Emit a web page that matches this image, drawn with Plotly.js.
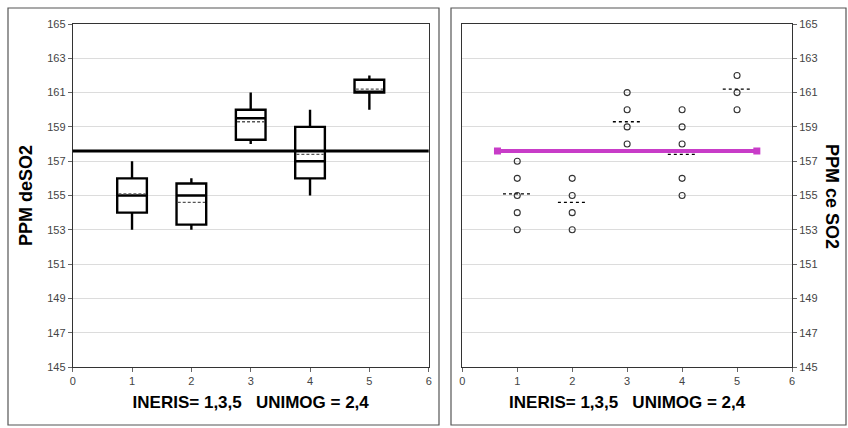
<!DOCTYPE html>
<html>
<head>
<meta charset="utf-8">
<script src="https://cdn.plot.ly/plotly-3.0.1.min.js"></script>
<style>
  html, body { margin: 0; padding: 0; background: #fff; }
  #chart { width: 848px; height: 428px; }
</style>
</head>
<body>
<div id="chart"></div>
<script>
// Campaign positions (INERIS = 1,3,5 ; UNIMOG = 2,4)
const positions = [1, 2, 3, 4, 5];

// Box summaries, ppm SO2
const lowerFence = [153, 153, 158, 155, 160];
const q1 = [154, 153.3, 158.25, 156, 161];
const medians = [155, 155, 159.5, 157, 161];
const q3 = [156, 155.7, 160, 159, 161.75];
const upperFence = [157, 156, 161, 160, 162];
const means = [155.1, 154.6, 159.3, 157.4, 161.2];

// Individual readings per position, ppm SO2
const readings1 = [153, 154, 155, 156, 157];
const readings2 = [153, 154, 155, 156];
const readings3 = [158, 159, 160, 161];
const readings4 = [155, 156, 158, 159, 160];
const readings5 = [160, 161, 162];

// Reference level and the span of the magenta reference bar
const refLevel = 157.6;
const refSpan = [0.64, 5.36];

const yTicks = [145, 147, 149, 151, 153, 155, 157, 159, 161, 163, 165];
const xTicks = [0, 1, 2, 3, 4, 5, 6];

const W = 848, H = 428;
const px = v => v / W;
const py = v => 1 - v / H;

const tickFont = { family: 'Liberation Sans, Arial, sans-serif', size: 11, color: '#444' };
const titleFont = { family: 'Liberation Sans, Arial, sans-serif', size: 17, color: '#000', weight: 'bold' };
const xTitle = 'INERIS= 1,3,5&nbsp;&nbsp; UNIMOG = 2,4';

// scatter points for the right panel
const groups = [readings1, readings2, readings3, readings4, readings5];
const ptsX = [], ptsY = [];
groups.forEach((g, i) => g.forEach(v => { ptsX.push(positions[i]); ptsY.push(v); }));

// dashed mean segments, drawn across each box width
function meanSegments(half) {
  const xs = [], ys = [];
  means.forEach((m, i) => {
    xs.push(positions[i] - half, positions[i] + half, null);
    ys.push(m, m, null);
  });
  return { xs, ys };
}
const boxWidth = 0.5;
const leftMeans = meanSegments(boxWidth / 2 - 0.02);
const rightMeans = meanSegments(0.26);

const traces = [
  {
    type: 'box',
    xaxis: 'x', yaxis: 'y',
    x: positions,
    q1: q1, median: medians, q3: q3,
    lowerfence: lowerFence, upperfence: upperFence,
    boxpoints: false,
    width: boxWidth,
    whiskerwidth: 0,
    fillcolor: '#ffffff',
    line: { color: '#000', width: 2.4 },
    hoverinfo: 'skip',
    showlegend: false
  },
  {
    type: 'scatter', mode: 'lines',
    xaxis: 'x', yaxis: 'y',
    x: leftMeans.xs, y: leftMeans.ys,
    line: { color: '#555', width: 1.3, dash: '3px,2px' },
    showlegend: false, hoverinfo: 'skip'
  },
  {
    type: 'scatter', mode: 'markers',
    xaxis: 'x2', yaxis: 'y2',
    x: ptsX, y: ptsY,
    marker: { symbol: 'circle-open', size: 6, color: '#333', line: { width: 1.1, color: '#333' } },
    showlegend: false, hoverinfo: 'skip'
  },
  {
    type: 'scatter', mode: 'lines',
    xaxis: 'x2', yaxis: 'y2',
    x: rightMeans.xs, y: rightMeans.ys,
    line: { color: '#000', width: 1.3, dash: '3px,3px' },
    showlegend: false, hoverinfo: 'skip'
  },
  {
    type: 'scatter', mode: 'lines+markers',
    xaxis: 'x2', yaxis: 'y2',
    x: refSpan, y: [refLevel, refLevel],
    line: { color: '#c83cc8', width: 4 },
    marker: { symbol: 'square', size: 7, color: '#c83cc8' },
    showlegend: false, hoverinfo: 'skip'
  }
];

const yCommon = {
  range: [145, 165],
  tickvals: yTicks,
  showgrid: true, gridcolor: '#dcdcdc', gridwidth: 1,
  zeroline: false,
  showline: true, linecolor: '#333', linewidth: 1, mirror: true,
  ticks: 'outside', ticklen: 4, tickcolor: '#666',
  tickfont: tickFont,
  domain: [py(367), py(24)],
  automargin: false,
  fixedrange: true
};
const xCommon = {
  range: [0, 6],
  tickvals: xTicks,
  showgrid: false, zeroline: false,
  showline: true, linecolor: '#333', linewidth: 1, mirror: true,
  ticks: 'outside', ticklen: 4, tickcolor: '#666',
  tickfont: tickFont,
  automargin: false,
  fixedrange: true
};

const layout = {
  width: W, height: H,
  margin: { l: 0, r: 0, t: 0, b: 0 },
  paper_bgcolor: '#fff', plot_bgcolor: '#fff',
  showlegend: false,
  xaxis: Object.assign({}, xCommon, {
    domain: [px(72.7), px(428.7)], anchor: 'y',
    title: { text: xTitle, font: titleFont, standoff: 9 }
  }),
  yaxis: Object.assign({}, yCommon, {
    anchor: 'x', side: 'left',
    title: { text: 'PPM deSO2', font: Object.assign({}, titleFont, { size: 18 }), standoff: 9 }
  }),
  xaxis2: Object.assign({}, xCommon, {
    domain: [px(462.3), px(792)], anchor: 'y2',
    title: { text: xTitle, font: titleFont, standoff: 9 }
  }),
  yaxis2: Object.assign({}, yCommon, {
    anchor: 'x2', side: 'right'
  }),
  shapes: [
    // overall reference level across the left panel
    { type: 'line', xref: 'x domain', yref: 'y', x0: 0, x1: 1, y0: refLevel, y1: refLevel,
      line: { color: '#000', width: 3 }, layer: 'above' },
    // panel frames
    { type: 'rect', xref: 'paper', yref: 'paper', x0: px(8), x1: px(439), y0: py(425), y1: py(8),
      line: { color: '#555', width: 1.2 } },
    { type: 'rect', xref: 'paper', yref: 'paper', x0: px(451), x1: px(846), y0: py(425), y1: py(8),
      line: { color: '#555', width: 1.2 } }
  ],
  annotations: [
    { text: 'PPM ce SO2', xref: 'paper', yref: 'paper', x: px(832), y: py(196),
      xanchor: 'center', yanchor: 'middle', textangle: 90, showarrow: false,
      font: Object.assign({}, titleFont, { size: 18 }) }
  ]
};

Plotly.newPlot('chart', traces, layout, { staticPlot: true, displayModeBar: false });
</script>
</body>
</html>
